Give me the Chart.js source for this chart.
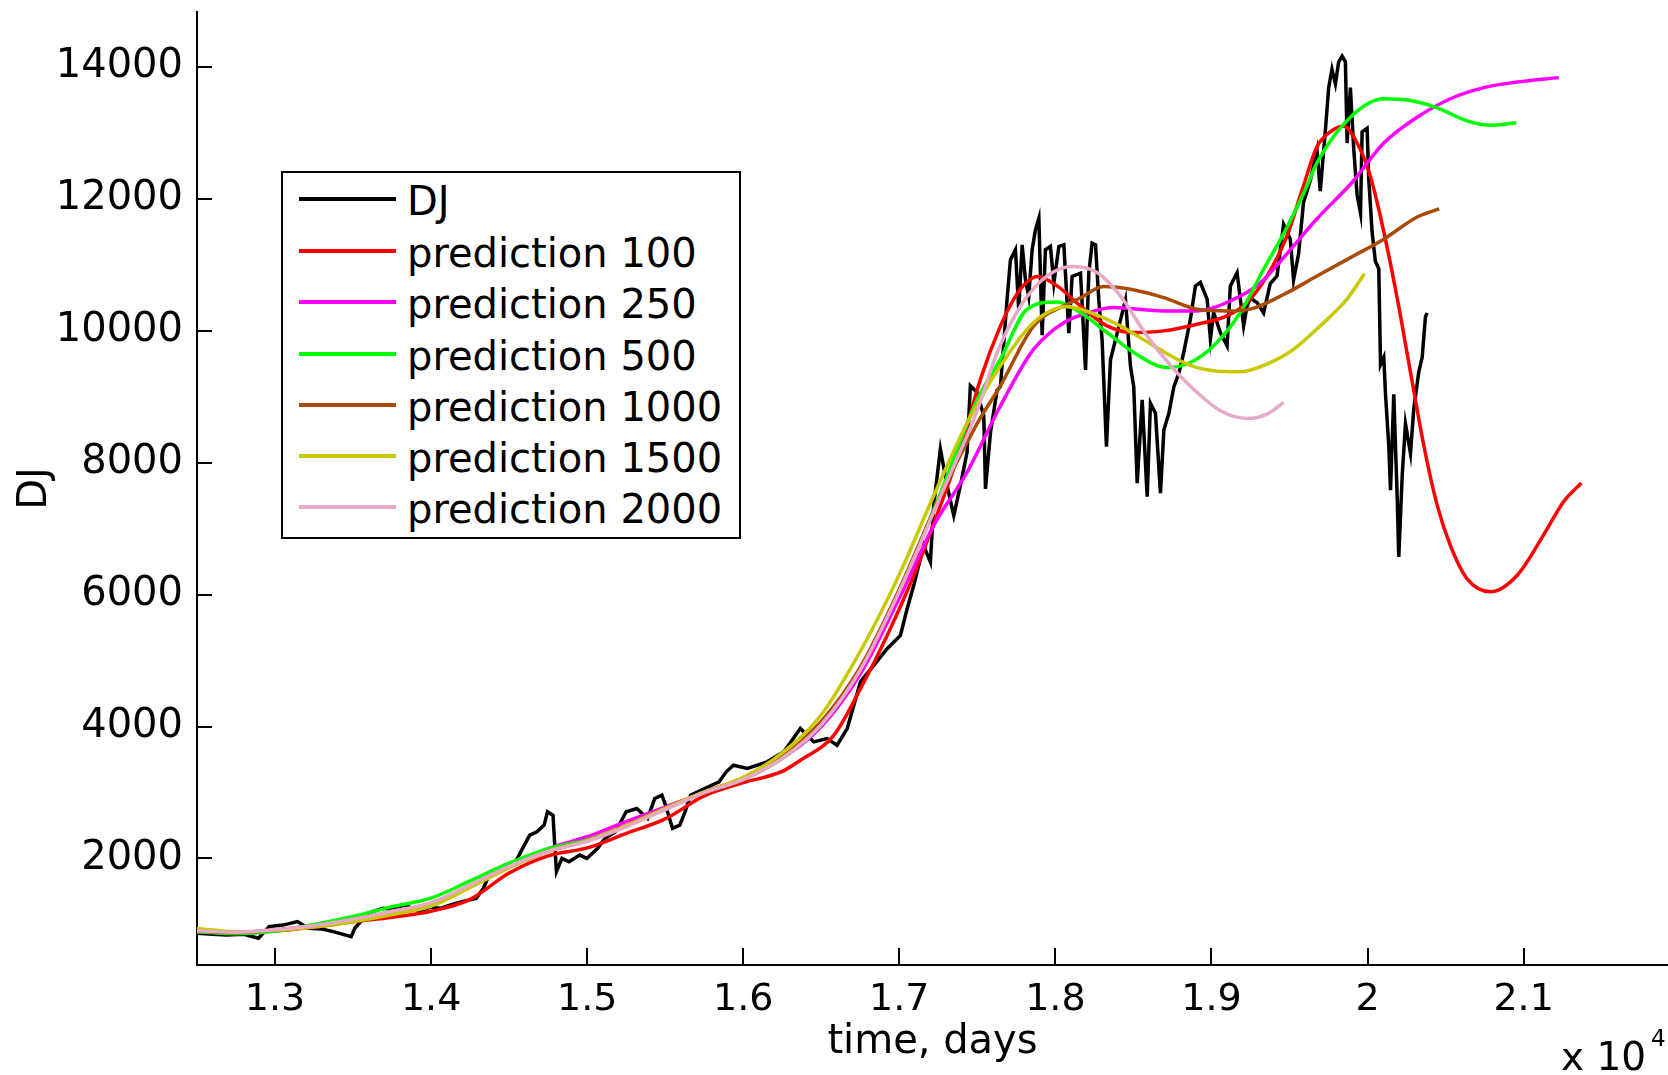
<!DOCTYPE html>
<html>
<head>
<meta charset="utf-8">
<script src="https://cdn.jsdelivr.net/npm/chart.js@4.4.1/dist/chart.umd.min.js"></script>
<style>
html,body{margin:0;padding:0;background:#fff;}
#wrap{position:relative;width:1668px;height:1075px;overflow:hidden;background:#fff;}
#c{position:absolute;left:0;top:0;}
#legend{position:absolute;left:281px;top:171px;width:456px;height:364px;border:2px solid #000;background:#fff;font-family:"DejaVu Sans";font-size:40px;color:#000;}
.sw{position:absolute;left:16px;width:97px;height:4px;}
.lt{position:absolute;left:124px;white-space:nowrap;line-height:40px;}
.ex{position:absolute;font-family:"DejaVu Sans";color:#000;white-space:nowrap;}
</style>
</head>
<body>
<div id="wrap">
<canvas id="c" width="1668" height="1075" style="width:1668px;height:1075px"></canvas>
<div id="legend"></div>
<div class="ex" style="left:1561px;top:1037px;font-size:39px;line-height:39px;">x 10</div>
<div class="ex" style="left:1651px;top:1027px;font-size:23px;line-height:23px;">4</div>
</div>
<script>
// ---------- axis ticks ----------
const xTickValues = [13000, 14000, 15000, 16000, 17000, 18000, 19000, 20000, 21000];
const xTickLabels = ['1.3', '1.4', '1.5', '1.6', '1.7', '1.8', '1.9', '2', '2.1'];
const yTickValues = [2000, 4000, 6000, 8000, 10000, 12000, 14000];
const yTickLabels = ['2000', '4000', '6000', '8000', '10000', '12000', '14000'];

// ---------- series names ----------
const seriesNames = ['DJ', 'prediction 100', 'prediction 250', 'prediction 500', 'prediction 1000', 'prediction 1500', 'prediction 2000'];

// ---------- DJ index ----------
const djDays = [12505,12600,12687,12800,12894,12962,13050,13144,13214,13300,13374,13488,13511,13570,13625,13694,13760,13831,13923,13990,
14060,14130,14197,14289,14335,14381,14430,14472,14541,14586,14632,14678,14724,14746,14781,14792,14803,14838,14884,14952,
14998,15067,15113,15181,15250,15318,15387,15433,15479,15502,15547,15593,15627,15662,15753,15845,15891,15937,16027,16153,
16260,16366,16452,16537,16601,16666,16751,16836,16922,17007,17050,17092,17156,17199,17220,17263,17306,17349,17391,17434,
17455,17498,17541,17552,17584,17626,17648,17690,17712,17744,17765,17787,17808,17829,17851,17872,17894,17915,17936,17968,
17990,18022,18054,18086,18107,18161,18193,18214,18235,18257,18278,18299,18327,18353,18385,18417,18449,18481,18502,18524,
18556,18588,18609,18641,18673,18695,18727,18759,18791,18822,18865,18897,18929,18972,18993,19014,19057,19100,19121,19164,
19206,19228,19249,19292,19334,19377,19420,19462,19505,19526,19558,19590,19634,19676,19697,19729,19751,19772,19794,19815,
19837,19858,19869,19890,19912,19933,19955,19965,19997,20008,20029,20050,20072,20083,20104,20115,20136,20147,20168,20190,
20200,20222,20243,20275,20296,20328,20350,20371,20382];
const djValues = [866,850,840,850,790,967,990,1043,942,930,891,816,942,1100,1194,1244,1230,1295,1194,1260,
1244,1300,1346,1396,1547,1800,1850,1900,1951,2153,2355,2405,2506,2708,2657,2203,1800,2001,1951,2052,
2001,2153,2304,2405,2708,2758,2607,2910,2960,2808,2456,2506,2708,2960,3061,3163,3314,3414,3364,3465,
3617,3970,3768,3818,3717,3970,4677,4928,5181,5382,5787,6139,6745,6494,7351,8209,7653,7199,7653,8158,
9167,9067,8713,7603,8460,9100,9155,10470,11077,11229,10319,11305,10774,10520,11229,11532,11710,9936,11229,11280,
10724,11280,11305,9966,10825,10875,9409,10875,11330,11305,10470,9866,8245,9561,9866,10167,10470,9459,9155,7690,
8953,7486,8903,8751,7538,8499,8751,9155,9358,9672,10177,10682,10733,10480,9874,10278,9975,9773,10682,10884,
10076,10378,10495,10430,10271,10719,10831,11615,11391,10775,11167,11952,12288,12736,12120,13016,13688,13968,13744,14080,
14165,14080,12848,13688,12736,12064,11783,13016,13072,12288,11503,11055,10943,9487,9599,9039,8255,7583,9039,7471,
6574,7808,8591,8142,8815,9375,9599,10215,10271];

// ---------- prediction 100 ----------
const p100Days = [12500,12750,13000,13250,13500,13750,14000,14250,14500,14750,15000,15250,15500,15750,16000,16250,16366,16580,16751,16922,
17092,17263,17391,17520,17648,17733,17800,17883,18011,18160,18331,18502,18694,18908,19100,19228,19356,19484,19580,19676,
19761,19847,19933,20018,20104,20190,20275,20361,20446,20531,20638,20788,20959,21129,21257,21370];
const p100Values = [890,870,900,960,1040,1110,1200,1380,1780,2040,2160,2380,2600,2950,3150,3320,3490,3868,4575,5382,
6291,7351,8209,9269,10076,10480,10700,10824,10682,10378,10076,9975,10000,10101,10227,10430,10833,11439,12130,12792,
13016,13101,12848,12344,11503,10495,9375,8254,7358,6743,6239,6044,6295,6911,7414,7694];

// ---------- prediction 250 ----------
const p250Days = [12500,12750,13000,13250,13500,13750,14000,14250,14500,14750,15000,15250,15500,15750,16000,16250,16500,16750,17000,17220,
17434,17648,17861,18075,18182,18373,18694,18908,19121,19300,19462,19676,19900,20104,20318,20531,20745,20959,21226];
const p250Values = [900,880,915,980,1070,1190,1320,1590,1890,2150,2330,2560,2780,3000,3200,3520,4000,4800,5950,7048,
7857,8865,9723,10152,10253,10354,10303,10303,10454,10700,11111,11700,12250,12848,13240,13520,13688,13773,13840];

// ---------- prediction 500 ----------
const p500Days = [12500,12750,13000,13250,13500,13750,14000,14250,14500,14750,15000,15250,15500,15750,16000,16250,16500,16750,17000,17250,
17500,17648,17819,18011,18160,18331,18502,18716,18865,19014,19185,19334,19473,19612,19676,19890,20104,20275,20446,20638,
20788,20953];
const p500Values = [890,860,900,1000,1120,1270,1400,1660,1930,2150,2280,2490,2750,3000,3200,3520,4030,4870,6080,7460,
8960,9572,10328,10439,10278,9975,9672,9445,9521,9773,10278,10934,11520,12196,12550,13240,13520,13493,13381,13184,
13117,13157];

// ---------- prediction 1000 ----------
const p1000Days = [12500,12750,13000,13250,13500,13750,14000,14250,14500,14750,15000,15250,15500,15750,16000,16250,16500,16750,17000,17250,
17500,17648,17861,18075,18160,18309,18481,18694,18908,19100,19250,19462,19676,19890,20104,20318,20459];
const p1000Values = [900,875,915,980,1075,1195,1320,1590,1870,2110,2270,2500,2760,3010,3220,3560,4080,4900,6080,7430,
8600,9168,10076,10404,10500,10672,10631,10505,10328,10303,10330,10551,10831,11111,11391,11727,11849];

// ---------- prediction 1500 ----------
const p1500Days = [12500,12750,13000,13250,13500,13750,14000,14250,14500,14750,15000,15250,15500,15750,16000,16250,16500,16794,17007,17220,
17434,17648,17861,18075,18224,18416,18630,18844,19014,19185,19356,19527,19697,19868,19980];
const p1500Values = [940,890,910,960,1040,1150,1280,1560,1860,2110,2270,2500,2760,3010,3230,3600,4180,5332,6342,7500,
8600,9470,10127,10364,10278,10076,9773,9496,9395,9380,9496,9723,10076,10480,10866];

// ---------- prediction 2000 ----------
const p2000Days = [12500,12750,13000,13250,13500,13750,14000,14250,14500,14750,15000,15250,15500,15750,16000,16250,16500,16750,17000,17250,
17500,17627,17777,17947,18117,18267,18416,18587,18758,18908,19057,19228,19356,19462];
const p2000Values = [905,880,920,985,1080,1200,1330,1600,1880,2110,2260,2480,2740,3000,3200,3520,4030,4860,6050,7420,
8800,9672,10378,10833,10975,10884,10531,9924,9420,9067,8789,8673,8739,8916];

const seriesColors = ['#000000', '#ff0000', '#ff00ff', '#00ff00', '#aa4b08', '#c8c800', '#e8a8c8'];

function pts(days, vals) { return days.map((d, i) => ({ x: d, y: vals[i] })); }

const allSeries = [
  pts(djDays, djValues),
  pts(p100Days, p100Values),
  pts(p250Days, p250Values),
  pts(p500Days, p500Values),
  pts(p1000Days, p1000Values),
  pts(p1500Days, p1500Values),
  pts(p2000Days, p2000Values)
];

const datasets = allSeries.map((d, i) => ({
  label: seriesNames[i],
  data: d,
  borderColor: seriesColors[i],
  backgroundColor: seriesColors[i],
  borderWidth: 3.5,
  pointRadius: 0,
  fill: false,
  tension: i === 0 ? 0 : 0.4,
  cubicInterpolationMode: i === 0 ? 'default' : 'monotone',
  order: seriesNames.length - i
}));

const FONT = 'DejaVu Sans';

function zeroPad(s) { s.paddingTop = 0; s.paddingBottom = 0; s.paddingLeft = 0; s.paddingRight = 0; }

new Chart(document.getElementById('c'), {
  type: 'line',
  data: { datasets },
  options: {
    responsive: false,
    animation: false,
    devicePixelRatio: 1,
    parsing: false,
    normalized: true,
    layout: { padding: { top: 12, right: 0, bottom: 0, left: 0 } },
    plugins: { legend: { display: false }, tooltip: { enabled: false } },
    scales: {
      x: {
        type: 'linear',
        min: 12500,
        max: 21925,
        afterBuildTicks: (s) => { s.ticks = xTickValues.map(v => ({ value: v })); },
        afterFit: (s) => { s.height = 110; zeroPad(s); },
        ticks: {
          autoSkip: false, maxRotation: 0, minRotation: 0,
          padding: 29, color: '#000',
          font: { family: FONT, size: 38 },
          callback: (v, i) => xTickLabels[i]
        },
        grid: { drawOnChartArea: false, drawTicks: true, tickLength: -17, color: '#000', lineWidth: 2 },
        border: { display: true, color: '#000', width: 2 },
        title: { display: true, text: 'time, days', color: '#000', font: { family: FONT, size: 40 }, padding: { top: 0, bottom: 8 } }
      },
      y: {
        type: 'linear',
        min: 385,
        max: 14835,
        afterBuildTicks: (s) => { s.ticks = yTickValues.map(v => ({ value: v })); },
        afterFit: (s) => { s.width = 197; zeroPad(s); },
        ticks: {
          padding: 29, color: '#000',
          font: { family: FONT, size: 40 },
          callback: (v, i) => yTickLabels[i]
        },
        grid: { drawOnChartArea: false, drawTicks: true, tickLength: -15, color: '#000', lineWidth: 2 },
        border: { display: true, color: '#000', width: 2 },
        title: { display: true, text: 'DJ', color: '#000', font: { family: FONT, size: 40 }, padding: { top: 12, bottom: 0 } }
      }
    }
  }
});

// ---------- legend (HTML, real text) ----------
const legendRowCenters = [26, 77.5, 129, 180.5, 231.5, 282.5, 333.5];
const legend = document.getElementById('legend');
seriesNames.forEach((name, i) => {
  const c = legendRowCenters[i];
  const sw = document.createElement('div');
  sw.className = 'sw';
  sw.style.top = (c - 2) + 'px';
  sw.style.background = seriesColors[i];
  legend.appendChild(sw);
  const t = document.createElement('div');
  t.className = 'lt';
  t.style.top = (c - 18) + 'px';
  t.textContent = name;
  legend.appendChild(t);
});
</script>
</body>
</html>
